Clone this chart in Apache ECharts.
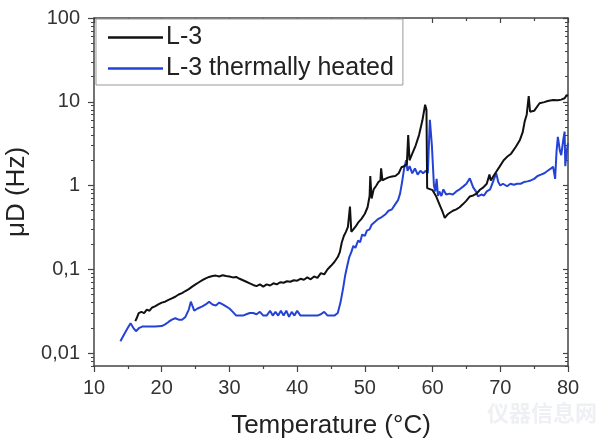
<!DOCTYPE html>
<html>
<head>
<meta charset="utf-8">
<script src="https://cdn.jsdelivr.net/npm/echarts@6/dist/echarts.min.js"></script>
<style>html,body{margin:0;padding:0;background:#fff}#c{width:609px;height:448px}</style>
</head>
<body>
<div id="c"></div>
<script>
// ---- data ----
var seriesNames = ['L-3', 'L-3 thermally heated'];
var xTicks = [10, 20, 30, 40, 50, 60, 70, 80];
var yTickLabels = [0.01, 0.1, 1, 10, 100];

var l3 = [[16.1,0.024],[16.3,0.026],[16.6,0.030],[17.0,0.031],[17.4,0.030],[17.8,0.033],[18.2,0.032],[18.6,0.035],[19.0,0.036],[19.5,0.038],[20.0,0.040],[20.5,0.041],[21.0,0.043],[21.5,0.045],[22.0,0.047],[22.5,0.050],[23.0,0.052],[23.5,0.055],[24.0,0.058],[24.5,0.062],[25.0,0.066],[25.5,0.070],[26.0,0.074],[26.5,0.078],[27.0,0.081],[27.5,0.083],[28.0,0.084],[28.5,0.082],[29.0,0.085],[29.5,0.083],[30.0,0.082],[30.5,0.080],[31.0,0.081],[31.5,0.077],[32.0,0.074],[32.5,0.071],[33.0,0.068],[33.5,0.065],[34.0,0.063],[34.5,0.066],[35.0,0.062],[35.5,0.066],[36.0,0.064],[36.5,0.068],[37.0,0.066],[37.5,0.070],[38.0,0.069],[38.5,0.072],[39.0,0.071],[39.5,0.074],[40.0,0.073],[40.5,0.077],[41.0,0.075],[41.5,0.080],[42.0,0.076],[42.5,0.082],[43.0,0.079],[43.5,0.090],[44.0,0.087],[44.5,0.100],[45.0,0.110],[45.5,0.122],[46.0,0.140],[46.3,0.160],[46.6,0.210],[46.9,0.250],[47.2,0.280],[47.5,0.320],[47.8,0.56],[48.0,0.28],[48.3,0.30],[48.7,0.33],[49.0,0.36],[49.5,0.40],[50.0,0.46],[50.4,0.55],[50.7,0.75],[50.8,1.30],[51.0,0.70],[51.3,0.90],[51.7,1.00],[52.0,1.10],[52.3,1.15],[52.4,1.60],[52.6,1.15],[53.0,1.20],[53.5,1.25],[54.0,1.28],[54.5,1.30],[55.0,1.40],[55.4,1.65],[55.8,1.70],[56.2,1.80],[56.4,4.0],[56.6,2.0],[57.0,2.4],[57.5,3.0],[58.0,4.0],[58.5,6.0],[58.9,9.2],[59.1,8.0],[59.2,0.93],[60.0,0.88],[60.5,0.75],[61.0,0.60],[61.5,0.48],[61.8,0.41],[62.2,0.45],[62.5,0.47],[63.0,0.50],[63.5,0.52],[64.0,0.55],[64.5,0.60],[65.0,0.66],[65.5,0.74],[66.0,0.76],[66.5,0.80],[67.0,0.89],[67.5,0.95],[68.0,1.05],[68.4,1.35],[68.6,1.15],[69.0,1.30],[69.5,1.50],[69.9,1.68],[70.5,2.0],[71.0,2.2],[71.6,2.4],[72.3,2.9],[72.9,3.5],[73.3,4.3],[73.6,5.8],[73.9,7.0],[74.2,11.7],[74.4,7.6],[75.0,7.8],[75.8,9.6],[76.5,9.9],[77.0,10.2],[77.8,10.5],[78.5,10.4],[79.0,10.6],[79.5,11.0],[79.8,12.0],[80.0,11.8]];

var l3Heated = [[13.9,0.0138],[14.5,0.017],[15.0,0.020],[15.4,0.0227],[15.8,0.020],[16.2,0.0182],[16.7,0.020],[17.2,0.0208],[18.0,0.0207],[19.0,0.0207],[20.0,0.021],[20.5,0.022],[21.0,0.0235],[21.5,0.025],[22.0,0.026],[22.5,0.025],[23.0,0.025],[23.5,0.027],[24.0,0.033],[24.3,0.041],[24.8,0.032],[25.3,0.034],[26.0,0.036],[26.5,0.038],[27.0,0.041],[27.5,0.038],[28.0,0.037],[28.5,0.040],[29.0,0.038],[29.5,0.036],[30.0,0.034],[30.5,0.031],[31.0,0.028],[31.5,0.028],[32.0,0.028],[32.5,0.029],[33.0,0.030],[33.5,0.030],[34.0,0.029],[34.5,0.031],[35.0,0.028],[35.5,0.028],[36.0,0.032],[36.4,0.028],[36.8,0.031],[37.2,0.028],[37.6,0.032],[38.0,0.028],[38.4,0.032],[38.8,0.027],[39.2,0.031],[39.6,0.028],[40.0,0.032],[40.5,0.028],[41.0,0.028],[41.5,0.028],[42.0,0.028],[42.5,0.028],[43.0,0.028],[43.5,0.029],[44.0,0.031],[44.5,0.028],[45.0,0.028],[45.5,0.028],[46.0,0.030],[46.4,0.040],[46.8,0.060],[47.1,0.085],[47.4,0.110],[47.7,0.14],[48.0,0.16],[48.3,0.19],[48.6,0.18],[49.0,0.22],[49.3,0.21],[49.6,0.26],[50.0,0.25],[50.3,0.29],[50.7,0.30],[51.0,0.34],[51.5,0.37],[52.0,0.40],[52.5,0.42],[53.0,0.45],[53.5,0.50],[54.0,0.52],[54.5,0.60],[54.9,0.67],[55.2,0.80],[55.5,1.10],[55.8,1.60],[56.1,2.0],[56.3,1.5],[56.6,1.7],[57.0,1.4],[57.4,1.6],[57.8,1.35],[58.2,1.5],[58.6,1.4],[59.0,1.5],[59.3,1.4],[59.6,6.1],[59.9,3.0],[60.2,1.0],[60.4,0.85],[60.6,1.2],[60.8,0.75],[61.0,0.85],[61.3,0.75],[61.6,0.90],[62.0,0.78],[62.5,0.80],[63.0,0.78],[63.5,0.85],[64.0,0.90],[64.5,0.97],[65.0,1.05],[65.5,1.22],[66.0,0.95],[66.4,0.85],[66.7,0.74],[67.2,0.78],[67.6,0.76],[68.0,0.85],[68.5,0.90],[69.0,1.15],[69.4,1.4],[69.7,1.1],[70.0,1.0],[70.4,1.05],[71.0,0.98],[71.5,1.05],[72.0,1.02],[72.5,1.05],[73.0,1.05],[73.5,1.10],[74.0,1.12],[74.5,1.15],[75.0,1.20],[75.5,1.30],[76.0,1.35],[76.5,1.40],[77.0,1.50],[77.5,1.60],[77.8,1.68],[78.1,1.20],[78.3,2.5],[78.5,3.8],[78.8,2.6],[79.0,2.3],[79.3,3.5],[79.5,4.4],[79.6,1.7],[79.8,2.5],[80.0,3.2]];

// ---- chart ----
var FONT = '"Liberation Sans", Arial, sans-serif';
var AX = '#444';
var minorVals = [];
[0.001, 0.01, 0.1, 1, 10].forEach(function (d) {
  for (var k = 2; k <= 9; k++) minorVals.push(+(k * d).toPrecision(3));
});
function fmt(v) { return String(+v.toPrecision(3)).replace('.', ','); }

var chart = echarts.init(document.getElementById('c'), null, {renderer: 'canvas'});
var baseY = {type: 'log', logBase: 10, min: 0.007, max: 100, splitLine: {show: false}};
chart.setOption({
  animation: false,
  backgroundColor: '#fff',
  grid: {left: 94, right: 41, top: 18, bottom: 82, containLabel: false, outerBoundsMode: 'none'},
  legend: {
    orient: 'vertical', left: 96, top: 19,
    data: seriesNames,
    icon: 'rect', itemWidth: 55, itemHeight: 2.5, itemGap: 6,
    padding: [6, 9, 4, 12],
    borderColor: '#999', borderWidth: 1, backgroundColor: '#fff',
    textStyle: {fontFamily: FONT, fontSize: 25, color: '#222', padding: [0, 0, 0, -2]}
  },
  xAxis: [{
    type: 'value', min: 10, max: 80, interval: 10,
    name: 'Temperature (°C)', nameLocation: 'middle', nameGap: 47,
    nameTextStyle: {fontFamily: FONT, fontSize: 26, color: '#222'},
    axisLine: {show: true, lineStyle: {color: AX, width: 1.5}},
    axisTick: {show: true, length: 6, lineStyle: {color: AX, width: 1.2}, customValues: xTicks},
    minorTick: {show: true, splitNumber: 2, length: 3, lineStyle: {color: AX, width: 1.2}},
    axisLabel: {fontFamily: FONT, fontSize: 20, color: '#333', margin: 12, customValues: xTicks},
    splitLine: {show: false}
  }, {
    type: 'value', min: 10, max: 80, interval: 10, position: 'top',
    axisLine: {show: true, onZero: false, lineStyle: {color: AX, width: 1.5}},
    axisTick: {show: true, inside: true, length: 5, lineStyle: {color: AX, width: 1.2}},
    minorTick: {show: true, splitNumber: 2, length: 3, lineStyle: {color: AX, width: 1.2}},
    axisLabel: {show: false}, splitLine: {show: false}
  }],
  yAxis: [
    Object.assign({}, baseY, {
      position: 'left',
      name: 'μD (Hz)', nameLocation: 'middle', nameGap: 56, nameRotate: 90,
      nameTextStyle: {fontFamily: FONT, fontSize: 26, color: '#222'},
      axisLine: {show: true, onZero: false, lineStyle: {color: AX, width: 1.5}},
      axisTick: {show: true, length: 6, customValues: yTickLabels, lineStyle: {color: AX, width: 1.2}},
      axisLabel: {fontFamily: FONT, fontSize: 20, color: '#333', margin: 14, customValues: yTickLabels, formatter: fmt}
    }),
    Object.assign({}, baseY, {
      position: 'left',
      axisLine: {show: false},
      axisTick: {show: true, length: 3, customValues: minorVals, lineStyle: {color: AX, width: 1}},
      axisLabel: {show: false}
    }),
    Object.assign({}, baseY, {
      position: 'right',
      axisLine: {show: true, onZero: false, lineStyle: {color: AX, width: 1.5}},
      axisTick: {show: true, inside: true, length: 5, customValues: yTickLabels, lineStyle: {color: AX, width: 1.2}},
      axisLabel: {show: false}
    }),
    Object.assign({}, baseY, {
      position: 'right',
      axisLine: {show: false},
      axisTick: {show: true, inside: true, length: 3, customValues: minorVals, lineStyle: {color: AX, width: 1}},
      axisLabel: {show: false}
    })
  ],
  series: [{
    name: seriesNames[0], type: 'line', data: l3, xAxisIndex: 0, yAxisIndex: 0,
    showSymbol: false, symbol: 'none', color: '#111', lineStyle: {color: '#111', width: 2}, z: 3
  }, {
    name: seriesNames[1], type: 'line', data: l3Heated, xAxisIndex: 0, yAxisIndex: 0,
    showSymbol: false, symbol: 'none', color: '#2443d6', lineStyle: {color: '#2443d6', width: 2}, z: 2
  }],
  graphic: [{
    type: 'text', right: 12, bottom: 24,
    style: {text: '仪器信息网', fontFamily: '"Noto Sans CJK SC"', fontSize: 22, fontWeight: 'bold', fill: '#eef0f3'}
  }]
});
</script>
</body>
</html>
